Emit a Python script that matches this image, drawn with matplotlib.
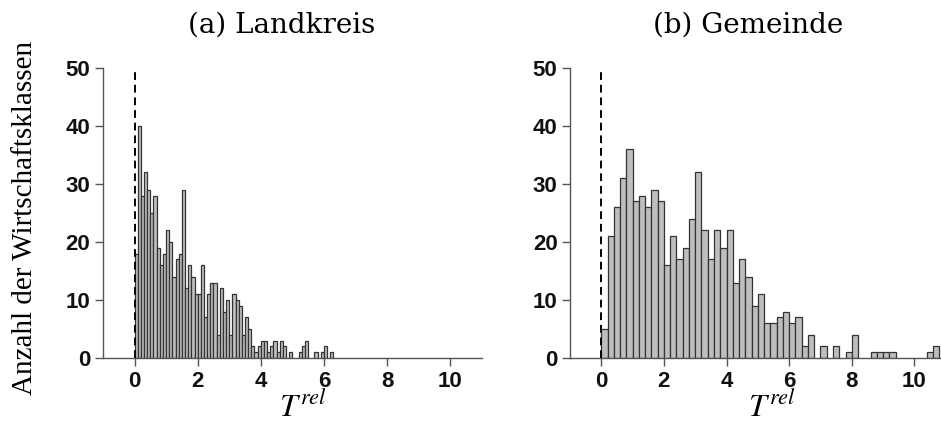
import numpy as np
import matplotlib
matplotlib.use("Agg")
import matplotlib.pyplot as plt

# counts per bin
# (a) Landkreis: bins of width 0.1 starting at 0
landkreis_counts = [
    18, 40, 28, 32, 29, 25, 28, 19, 16, 18,
    22, 20, 14, 17, 18, 29, 12, 16, 14, 11,
    11, 16, 7, 11, 13, 13, 4, 12, 8, 10,
    4, 11, 10, 9, 4, 7, 5, 2, 1, 2,
    3, 3, 1, 2, 3, 1, 3, 2, 0, 1,
    0, 0, 1, 2, 3, 0, 0, 1, 0, 1,
    2, 0, 1,
]
landkreis_width = 0.1

# (b) Gemeinde: bins of width 0.2 starting at 0
gemeinde_counts = [
    5, 21, 26, 31, 36, 27, 28, 26, 29, 27,
    16, 21, 17, 19, 24, 32, 22, 17, 22, 19,
    22, 13, 17, 14, 9, 11, 6, 6, 7, 8,
    6, 7, 2, 4, 0, 2, 0, 2, 0, 1,
    4, 0, 0, 1, 1, 1, 1, 0, 0, 0,
    0, 0, 1, 2,
]
gemeinde_width = 0.2

titles = ["(a) Landkreis", "(b) Gemeinde"]
x_ticks = [0, 2, 4, 6, 8, 10]
y_ticks = [0, 10, 20, 30, 40, 50]
y_label = "Anzahl der Wirtschaftsklassen"
x_label = r"$T^{rel}$"

W, H = 941, 423
fig = plt.figure(figsize=(W / 100, H / 100), dpi=100)
plt.rcParams["mathtext.fontset"] = "stix"

spine_col = "#555555"
bar_face = "#bebebe"
bar_edge = "#333333"


def px_axes(x0, x1, y_top, y_bot):
    return fig.add_axes([x0 / W, 1 - y_bot / H, (x1 - x0) / W, (y_bot - y_top) / H])


def draw_panel(ax, counts, width):
    counts = np.asarray(counts)
    starts = np.arange(len(counts)) * width
    keep = counts > 0
    ax.bar(starts[keep], counts[keep], width=width, align="edge",
           color=bar_face, edgecolor=bar_edge, linewidth=0.9, zorder=2)
    ax.plot([0, 0], [0, 50], color="black", linestyle=(0, (4, 2.5)),
            linewidth=1.4, zorder=3)
    ax.set_xlim(-1, 11)
    ax.set_ylim(0, 50)
    ax.set_xticks(x_ticks)
    ax.set_yticks(y_ticks)
    for side in ("top", "right"):
        ax.spines[side].set_visible(False)
    for side in ("left", "bottom"):
        ax.spines[side].set_color(spine_col)
        ax.spines[side].set_linewidth(1.0)
    ax.tick_params(axis="both", length=6, width=1.0, color=spine_col, pad=3,
                   labelsize=16)
    for lab in ax.get_xticklabels() + ax.get_yticklabels():
        lab.set_fontfamily("Liberation Sans")
        lab.set_fontweight("bold")
        lab.set_color("#111111")
    ax.patch.set_visible(False)


ax1 = px_axes(103, 481.7, 68, 358)
ax2 = px_axes(570, 945.7, 68, 358)
draw_panel(ax1, landkreis_counts, landkreis_width)
draw_panel(ax2, gemeinde_counts, gemeinde_width)

title_font = dict(family="DejaVu Serif", size=20, ha="center", va="baseline")
fig.text(282 / W, 1 - 33 / H, titles[0], **title_font)
fig.text(748 / W, 1 - 33 / H, titles[1], **title_font)

fig.text(303 / W, 1 - 416 / H, x_label, size=23, ha="center", va="baseline")
fig.text(772 / W, 1 - 416 / H, x_label, size=23, ha="center", va="baseline")

fig.text(25 / W, 1 - 218 / H, y_label, family="Liberation Serif", size=21,
         rotation=90, ha="center", va="center")

fig.savefig("out.png", dpi=100)
